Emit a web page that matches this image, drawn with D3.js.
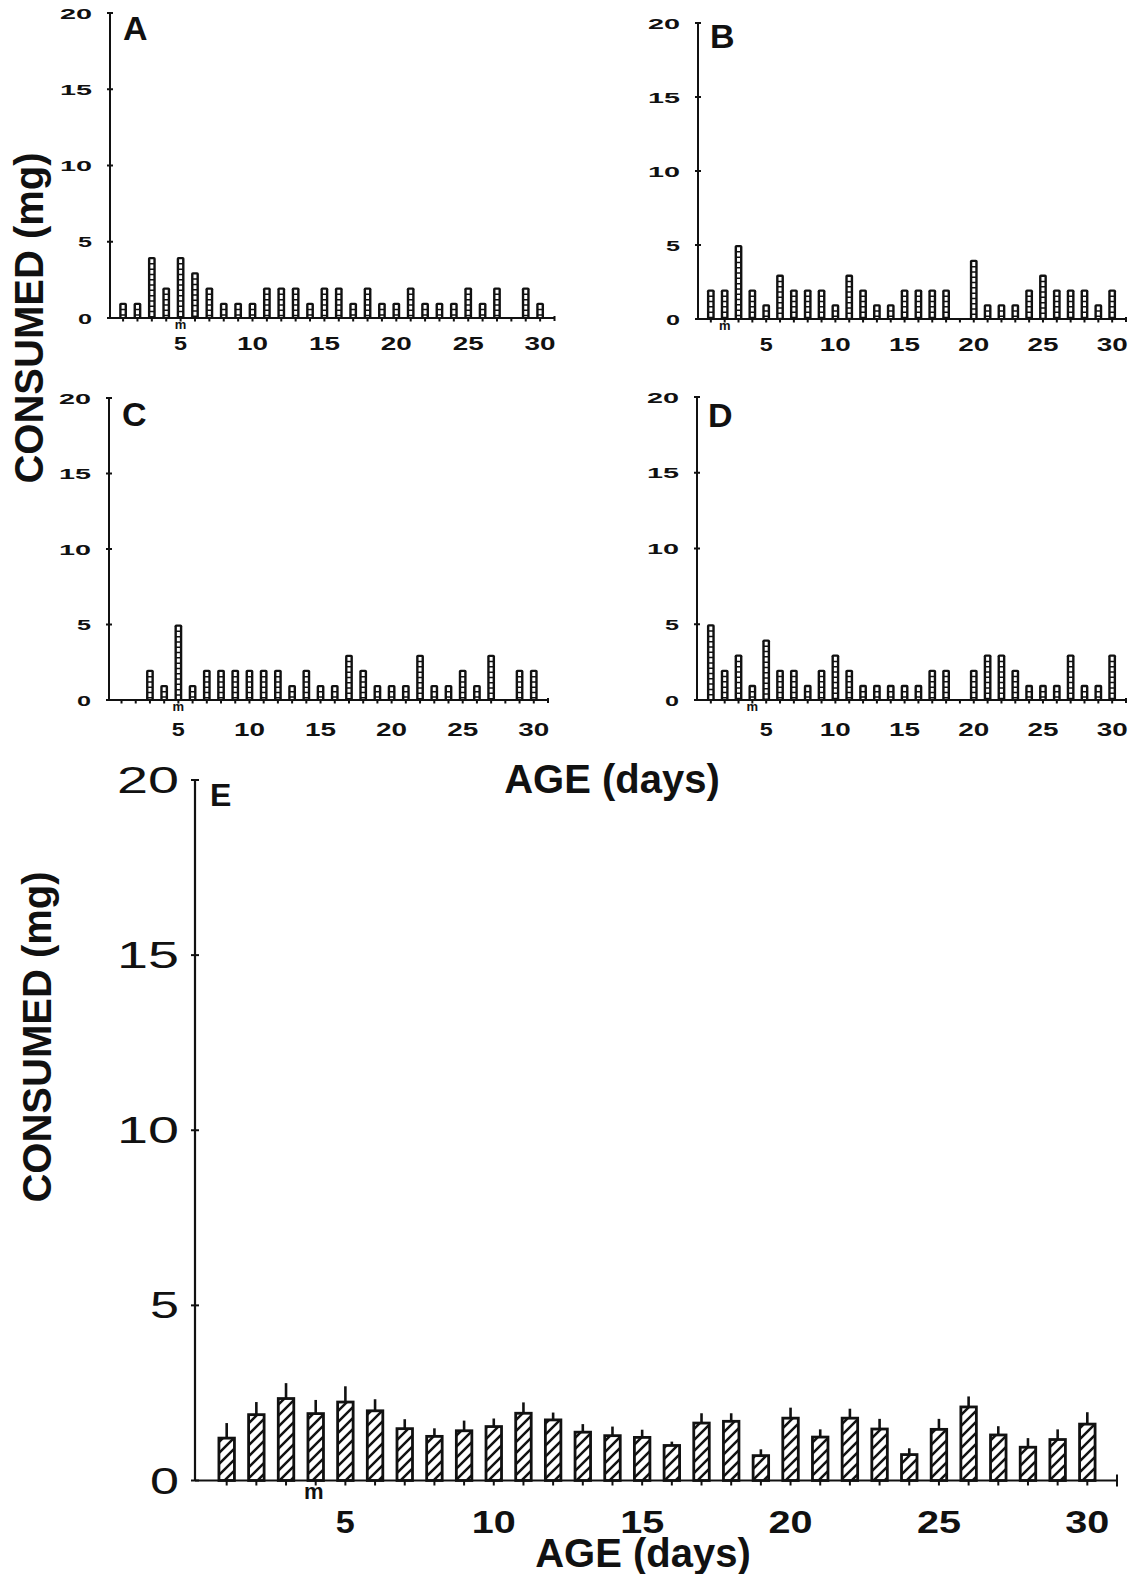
<!DOCTYPE html>
<html>
<head>
<meta charset="utf-8">
<script src="https://cdn.jsdelivr.net/npm/d3@7"></script>
<style>
  html, body { margin: 0; padding: 0; background: #fff; }
  svg { display: block; }
  text { font-family: "Liberation Sans", Arial, sans-serif; fill: #111; }
</style>
</head>
<body>
<svg id="chart" width="1142" height="1574"></svg>
<script>
// ---------------- DATA ----------------
const days = [1,2,3,4,5,6,7,8,9,10,11,12,13,14,15,16,17,18,19,20,21,22,23,24,25,26,27,28,29,30];
const panelA = [1,1,4,2,4,3,2,1,1,1,2,2,2,1,2,2,1,2,1,1,2,1,1,1,2,1,2,0,2,1];
const panelB = [2,2,5,2,1,3,2,2,2,1,3,2,1,1,2,2,2,2,0,4,1,1,1,2,3,2,2,2,1,2];
const panelC = [0,0,2,1,5,1,2,2,2,2,2,2,1,2,1,1,3,2,1,1,1,3,1,1,2,1,3,0,2,2];
const panelD = [5,2,3,1,4,2,2,1,2,3,2,1,1,1,1,1,2,2,0,2,3,3,2,1,1,1,3,1,1,3];
const meanE  = [1.21,1.88,2.34,1.91,2.24,1.99,1.48,1.26,1.42,1.54,1.92,1.73,1.38,1.28,1.23,
                1.00,1.64,1.69,0.71,1.78,1.24,1.78,1.47,0.74,1.46,2.10,1.30,0.95,1.17,1.61];
const seE    = [0.43,0.36,0.44,0.39,0.45,0.33,0.27,0.23,0.29,0.23,0.31,0.21,0.23,0.26,0.22,
                0.11,0.28,0.23,0.18,0.30,0.22,0.27,0.29,0.18,0.30,0.30,0.25,0.26,0.29,0.34];
const yTicks = [0,5,10,15,20];
const xTicks = [5,10,15,20,25,30];
const panelLetters = ["A","B","C","D","E"];
const markerDay = {A:5, B:2, C:5, D:4, E:4};
const yTitle = "CONSUMED (mg)";
const xTitle = "AGE (days)";

// ---------------- LAYOUT ----------------
const svg = d3.select("#chart");
svg.append("rect").attr("width",1142).attr("height",1574).attr("fill","#fff");

const defs = svg.append("defs");
const hatch = defs.append("pattern").attr("id","hatch")
  .attr("patternUnits","userSpaceOnUse").attr("width",11).attr("height",11);
hatch.append("rect").attr("width",11).attr("height",11).attr("fill","#fff");
hatch.append("path").attr("d","M-3,14 L14,-3 M-8,8 L8,-8 M3,19 L19,3")
  .attr("stroke","#111").attr("stroke-width",2.5);

const small = [
  {key:"A", vals:panelA, x0:108.7, x1:554.5, y0:318, y20:13, ax:110, lab:[123,40], xlabY:350},
  {key:"B", vals:panelB, x0:697,   x1:1126,  y0:319, y20:23, ax:698, lab:[710,48], xlabY:351},
  {key:"C", vals:panelC, x0:107.3, x1:548,   y0:700, y20:398, ax:109, lab:[122,426], xlabY:736},
  {key:"D", vals:panelD, x0:697,   x1:1126,  y0:700, y20:397, ax:697, lab:[708,427], xlabY:736}
];

function stretchedText(g, str, x, y, perChar, gap, size, weight, anchor) {
  const n = String(str).length;
  return g.append("text")
    .attr("x", x).attr("y", y)
    .attr("font-size", size).attr("font-weight", weight)
    .attr("text-anchor", anchor)
    .attr("textLength", n*perChar + (n-1)*gap)
    .attr("lengthAdjust", "spacingAndGlyphs")
    .text(str);
}

small.forEach(p => {
  const g = svg.append("g");
  const x = d3.scaleLinear().domain([0,31]).range([p.x0, p.x1]);
  const y = d3.scaleLinear().domain([0,20]).range([p.y0, p.y20]);
  const data = days.map((d,i) => ({day:d, v:p.vals[i]}));

  // bars
  const bw = 7.8;
  data.filter(d => d.v > 0).forEach(d => {
    g.append("rect")
      .attr("x", x(d.day) - bw/2).attr("y", y(d.v))
      .attr("width", bw).attr("height", y(0) - y(d.v))
      .attr("fill", "#111").attr("rx", 1.8);
    g.append("line")
      .attr("x1", x(d.day)).attr("x2", x(d.day))
      .attr("y1", y(d.v) + 2.3).attr("y2", y(0) - 1)
      .attr("stroke", "#fff").attr("stroke-width", 3)
      .attr("stroke-dasharray", "3.8,1.5");
  });

  // y axis
  g.append("line").attr("x1", p.ax).attr("x2", p.ax)
    .attr("y1", y(20)).attr("y2", y(0))
    .attr("stroke","#111").attr("stroke-width",2);
  yTicks.forEach(t => {
    g.append("line").attr("x1", p.ax-3).attr("x2", p.ax+3)
      .attr("y1", y(t)).attr("y2", y(t))
      .attr("stroke","#111").attr("stroke-width",2);
    stretchedText(g, t, p.ax-18, y(t)+5.5, 14, 4, 15, "bold", "end");
  });

  // x axis
  g.append("line").attr("x1", p.ax).attr("x2", x(31))
    .attr("y1", y(0)).attr("y2", y(0))
    .attr("stroke","#111").attr("stroke-width",2);
  days.forEach(d => {
    g.append("line").attr("x1", x(d)).attr("x2", x(d))
      .attr("y1", y(0)).attr("y2", y(0)+3.5)
      .attr("stroke","#111").attr("stroke-width",2);
  });
  g.append("line").attr("x1", x(31)).attr("x2", x(31))
    .attr("y1", y(0)-2).attr("y2", y(0)+3)
    .attr("stroke","#111").attr("stroke-width",2);
  xTicks.forEach(t => {
    stretchedText(g, t, x(t), p.xlabY, 13, 5, 19, "bold", "middle");
  });

  // marker m
  g.append("text").attr("x", x(markerDay[p.key])).attr("y", y(0)+11)
    .attr("text-anchor","middle").attr("font-size",13).attr("font-weight","bold")
    .text("m");

  // letter
  g.append("text").attr("x", p.lab[0]).attr("y", p.lab[1])
    .attr("font-size", 34).attr("font-weight","bold")
    .text(p.key);
});

// titles for small panels
svg.append("text")
  .attr("transform","translate(43,318) rotate(-90)")
  .attr("text-anchor","middle").attr("font-size",40).attr("font-weight","bold")
  .text(yTitle);
svg.append("text")
  .attr("x", 612).attr("y", 793)
  .attr("text-anchor","middle").attr("font-size",40).attr("font-weight","bold")
  .text(xTitle);

// ---------------- PANEL E ----------------
(function(){
  const g = svg.append("g");
  const x = d3.scaleLinear().domain([0,31]).range([197, 1117]);
  const y = d3.scaleLinear().domain([0,20]).range([1480.5, 780]);
  const axX = 195;
  const data = days.map((d,i) => ({day:d, m:meanE[i], se:seE[i]}));
  const bw = 15.5;

  data.forEach(d => {
    g.append("line")
      .attr("x1", x(d.day)).attr("x2", x(d.day))
      .attr("y1", y(d.m)).attr("y2", y(d.m + d.se))
      .attr("stroke","#111").attr("stroke-width",2.6);
    g.append("rect")
      .attr("x", x(d.day) - bw/2).attr("y", y(d.m))
      .attr("width", bw).attr("height", y(0) - y(d.m))
      .attr("fill","url(#hatch)").attr("stroke","#111").attr("stroke-width",2.8);
  });

  // y axis
  g.append("line").attr("x1", axX).attr("x2", axX)
    .attr("y1", y(20)).attr("y2", y(0))
    .attr("stroke","#111").attr("stroke-width",2.2);
  yTicks.forEach(t => {
    g.append("line").attr("x1", axX-4).attr("x2", axX+4)
      .attr("y1", y(t)).attr("y2", y(t))
      .attr("stroke","#111").attr("stroke-width",2);
    stretchedText(g, t, 179, y(t)+13, 29, 4, 36, "normal", "end");
  });

  // x axis
  g.append("line").attr("x1", axX).attr("x2", x(31))
    .attr("y1", y(0)).attr("y2", y(0))
    .attr("stroke","#111").attr("stroke-width",2.2);
  days.forEach(d => {
    g.append("line").attr("x1", x(d)).attr("x2", x(d))
      .attr("y1", y(0)).attr("y2", y(0)+5)
      .attr("stroke","#111").attr("stroke-width",2);
  });
  g.append("line").attr("x1", x(31)).attr("x2", x(31))
    .attr("y1", y(0)-6).attr("y2", y(0)+6)
    .attr("stroke","#111").attr("stroke-width",2);
  xTicks.forEach(t => {
    stretchedText(g, t, x(t), 1533, 19, 6, 31, "bold", "middle");
  });

  g.append("text").attr("x", x(markerDay.E) - 2).attr("y", 1499)
    .attr("text-anchor","middle").attr("font-size",22).attr("font-weight","bold")
    .text("m");

  g.append("text").attr("x", 210).attr("y", 806)
    .attr("font-size", 32).attr("font-weight","bold").text(panelLetters[4]);

  svg.append("text")
    .attr("transform","translate(51,1037) rotate(-90)")
    .attr("text-anchor","middle").attr("font-size",40).attr("font-weight","bold")
    .text(yTitle);
  svg.append("text")
    .attr("x", 643).attr("y", 1567)
    .attr("text-anchor","middle").attr("font-size",40).attr("font-weight","bold")
    .text(xTitle);
})();
</script>
</body>
</html>
